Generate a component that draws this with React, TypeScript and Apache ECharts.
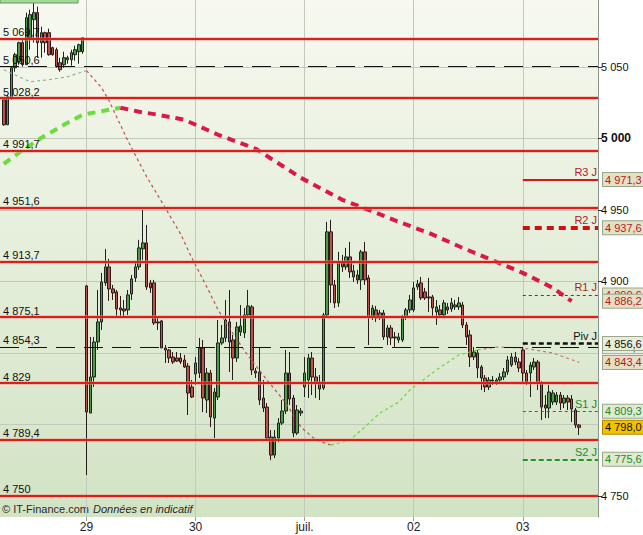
import React, { useEffect, useRef } from 'react';
import * as echarts from 'echarts';

// jours affichés et nombre de bougies par jour
const days = ['28', '29', '30', 'juil.', '02', '03'];
const dayCounts = [22, 29, 29, 29, 29, 16];
const padBefore = 1;
const padAfter = 5;

// bougies [ouverture, clôture, plus bas, plus haut]
const candles = [
  // 28
  [5027.1, 5009.6, 5008.9, 5028.5], [5009.6, 5029.2, 5009.6, 5030.6], [5028.5, 5049.5, 5027.1, 5050.2],
  [5049.5, 5058.6, 5046.7, 5060.0], [5053.7, 5067.0, 5051.6, 5067.7], [5067.0, 5051.6, 5050.2, 5069.1],
  [5051.6, 5084.5, 5051.6, 5088.0], [5070.5, 5086.6, 5062.1, 5090.1], [5083.1, 5088.0, 5067.0, 5095.7],
  [5088.0, 5067.0, 5056.5, 5092.2], [5067.0, 5074.0, 5056.5, 5078.2], [5074.0, 5067.0, 5060.0, 5074.7],
  [5074.0, 5058.6, 5057.9, 5076.8], [5063.5, 5058.6, 5057.9, 5064.2], [5062.1, 5050.2, 5049.5, 5063.5],
  [5053.0, 5048.1, 5046.7, 5056.5], [5051.6, 5056.5, 5049.5, 5060.7], [5055.1, 5056.5, 5052.3, 5057.9],
  [5055.1, 5060.0, 5050.9, 5062.1], [5058.6, 5062.1, 5054.4, 5064.9], [5060.7, 5065.6, 5052.3, 5066.3],
  [5060.7, 5070.5, 5059.3, 5070.5],
  // 29
  [4896.9, 4808.7, 4764.6, 4897.6], [4808.0, 4833.2, 4808.0, 4861.2], [4833.2, 4857.7, 4826.2, 4861.2],
  [4857.7, 4871.7, 4852.1, 4894.1], [4871.7, 4899.7, 4866.1, 4906.0], [4899.0, 4910.2, 4896.9, 4922.8],
  [4910.2, 4894.8, 4886.4, 4915.8], [4894.8, 4892.0, 4887.1, 4897.6], [4892.7, 4880.8, 4875.9, 4894.1],
  [4881.5, 4880.1, 4875.9, 4889.9], [4880.8, 4879.4, 4874.5, 4887.1], [4880.1, 4890.6, 4876.6, 4894.1],
  [4891.3, 4901.8, 4887.1, 4904.6], [4902.5, 4910.2, 4899.7, 4913.7], [4910.2, 4923.5, 4908.1, 4929.1],
  [4922.8, 4927.0, 4915.1, 4950.1], [4927.0, 4896.2, 4894.1, 4939.6], [4899.0, 4895.5, 4892.0, 4901.1],
  [4899.0, 4871.0, 4869.6, 4901.1], [4871.7, 4871.0, 4866.1, 4874.5], [4872.4, 4853.5, 4853.5, 4873.1],
  [4853.5, 4852.1, 4843.0, 4855.6], [4852.1, 4846.5, 4843.0, 4852.8], [4847.2, 4843.7, 4842.3, 4850.7],
  [4846.5, 4844.4, 4843.7, 4850.7], [4846.5, 4843.7, 4842.3, 4850.0], [4845.1, 4840.2, 4839.5, 4848.6],
  [4840.9, 4822.0, 4806.6, 4843.0], [4826.2, 4819.2, 4818.5, 4831.1],
  // 30
  [4835.3, 4843.0, 4827.6, 4847.2], [4836.0, 4853.5, 4832.5, 4860.5], [4853.5, 4818.5, 4808.7, 4859.1],
  [4817.1, 4836.0, 4808.0, 4839.5], [4836.0, 4805.2, 4798.2, 4838.1], [4804.5, 4822.7, 4790.5, 4825.5],
  [4819.2, 4857.0, 4817.1, 4873.1], [4857.0, 4860.5, 4855.6, 4869.6], [4860.5, 4873.1, 4857.7, 4887.1],
  [4871.7, 4857.7, 4836.7, 4894.1], [4859.1, 4846.5, 4831.1, 4862.6], [4846.5, 4868.2, 4843.7, 4871.7],
  [4864.7, 4868.9, 4861.9, 4883.6], [4864.0, 4876.6, 4860.5, 4881.5], [4876.6, 4882.9, 4874.5, 4894.1],
  [4882.2, 4838.1, 4834.6, 4883.6], [4837.4, 4836.0, 4832.5, 4839.5], [4836.7, 4817.1, 4813.6, 4854.2],
  [4818.5, 4811.5, 4808.7, 4831.1], [4812.2, 4790.5, 4789.1, 4815.0], [4791.2, 4778.6, 4775.1, 4796.1],
  [4778.6, 4791.2, 4776.5, 4796.1], [4790.5, 4801.0, 4787.7, 4804.5], [4801.0, 4809.4, 4799.6, 4817.1],
  [4809.4, 4836.0, 4807.3, 4852.1], [4836.0, 4817.8, 4813.6, 4850.7], [4818.5, 4794.0, 4791.2, 4820.6],
  [4794.0, 4810.1, 4792.6, 4813.6], [4808.0, 4809.4, 4805.9, 4811.5],
  // juil.
  [4826.2, 4836.0, 4819.2, 4847.2], [4831.1, 4846.5, 4818.5, 4849.3], [4846.5, 4833.2, 4820.6, 4850.7],
  [4833.2, 4829.0, 4818.5, 4839.5], [4829.7, 4824.8, 4817.1, 4834.6], [4825.5, 4876.6, 4824.1, 4878.0],
  [4876.6, 4934.7, 4874.5, 4941.7], [4934.7, 4897.6, 4885.0, 4943.1], [4897.6, 4885.0, 4881.5, 4901.1],
  [4885.0, 4913.7, 4882.2, 4920.7], [4913.7, 4910.2, 4906.7, 4918.6], [4910.2, 4917.2, 4908.1, 4923.5],
  [4917.2, 4906.7, 4902.5, 4927.7], [4903.2, 4907.4, 4899.7, 4911.6], [4904.6, 4901.1, 4898.3, 4908.1],
  [4901.1, 4920.7, 4894.1, 4922.1], [4920.7, 4901.1, 4897.6, 4927.7], [4902.5, 4875.2, 4855.6, 4904.6],
  [4875.2, 4881.5, 4873.1, 4883.6], [4880.1, 4874.5, 4871.7, 4882.9], [4874.5, 4878.0, 4873.1, 4880.1],
  [4878.0, 4861.2, 4859.1, 4880.1], [4861.2, 4867.5, 4855.6, 4869.6], [4867.5, 4860.5, 4855.6, 4869.6],
  [4861.2, 4860.5, 4854.2, 4864.7], [4859.1, 4861.2, 4857.0, 4864.0], [4859.1, 4875.2, 4857.7, 4876.6],
  [4875.2, 4880.1, 4873.1, 4881.5], [4880.1, 4887.1, 4878.0, 4890.6],
  // 02
  [4880.1, 4895.5, 4878.7, 4899.7], [4896.2, 4898.3, 4894.1, 4901.1], [4899.0, 4888.5, 4887.1, 4903.2],
  [4892.7, 4888.5, 4887.1, 4895.5], [4889.2, 4888.5, 4878.7, 4902.5], [4889.2, 4881.5, 4874.5, 4890.6],
  [4878.7, 4882.2, 4869.6, 4887.1], [4880.1, 4876.6, 4874.5, 4883.6], [4876.6, 4885.0, 4874.5, 4887.1],
  [4882.2, 4880.1, 4877.3, 4885.0], [4880.8, 4885.0, 4878.7, 4888.5], [4882.2, 4883.6, 4880.1, 4887.1],
  [4882.2, 4885.0, 4880.1, 4889.2], [4883.6, 4869.6, 4867.5, 4885.7], [4869.6, 4861.2, 4855.6, 4871.7],
  [4862.6, 4847.2, 4840.2, 4866.1], [4847.2, 4850.7, 4845.1, 4854.2], [4850.0, 4839.5, 4832.5, 4852.1],
  [4840.2, 4832.5, 4824.1, 4841.6], [4832.5, 4826.2, 4822.7, 4834.6], [4826.2, 4831.1, 4824.1, 4833.2],
  [4830.4, 4831.1, 4827.6, 4833.9], [4829.7, 4831.1, 4827.6, 4832.5], [4831.1, 4833.2, 4829.7, 4836.0],
  [4833.2, 4836.7, 4831.1, 4839.5], [4836.7, 4845.1, 4834.6, 4847.9], [4841.6, 4847.2, 4840.2, 4850.0],
  [4847.2, 4843.7, 4841.6, 4850.7], [4843.7, 4839.5, 4836.7, 4846.5],
  // 03
  [4852.1, 4836.0, 4829.0, 4854.2], [4836.0, 4829.7, 4827.6, 4838.1], [4836.0, 4841.6, 4819.2, 4843.7],
  [4840.2, 4843.7, 4838.1, 4846.5], [4843.7, 4829.0, 4824.1, 4845.1], [4829.0, 4812.2, 4803.1, 4830.4],
  [4813.6, 4811.5, 4804.5, 4820.6], [4811.5, 4822.7, 4804.5, 4827.6], [4815.7, 4822.0, 4813.6, 4824.1],
  [4815.7, 4820.6, 4813.6, 4822.7], [4820.6, 4815.0, 4810.1, 4822.7], [4815.0, 4818.5, 4811.5, 4820.6],
  [4818.5, 4815.7, 4810.1, 4820.6], [4817.8, 4810.8, 4801.7, 4820.6], [4810.1, 4799.6, 4797.5, 4811.5],
  [4799.6, 4798.0, 4792.6, 4800.3],
];

// moyenne courte (pointillés fins) : [indice de bougie, valeur]
const fastMaFlat = [[0, 5048.1], [7, 5039.7], [12, 5041.1], [17, 5043.2], [21, 5046.7], [22, 5047.4]];
const fastMaDown = [
  [22, 5047.4], [26, 5035.5], [28, 5026.4], [33, 4998.4], [38, 4973.2], [42, 4955.7], [47, 4933.3],
  [50, 4916.5], [54, 4896.2], [57, 4880.1], [61, 4863.3], [65, 4847.9], [70, 4831.1], [75, 4815.0],
  [79, 4798.2], [83, 4789.1], [87, 4785.6],
];
const fastMaUp = [
  [87, 4785.6], [92, 4789.1], [96, 4798.2], [100, 4808.0], [105, 4815.7], [108, 4824.1],
  [115, 4838.1], [121, 4848.6], [126, 4852.1],
];
const fastMaEnd = [[126, 4852.1], [131, 4854.2], [138, 4853.5], [146, 4850.0], [153, 4843.4]];

// moyenne longue (gros pointillés)
const slowMaUp = [[0, 4982.3], [4, 4990.0], [10, 5000.5], [16, 5009.6], [21, 5016.6], [28, 5020.1], [31, 5021.5]];
const slowMaDown = [
  [31, 5021.5], [36, 5018.7], [41, 5016.6], [48, 5013.1], [54, 5006.1], [57, 5002.6], [67, 4992.8],
  [79, 4972.5], [90, 4957.1], [97, 4950.1], [105, 4941.7], [113, 4934.0], [122, 4923.5], [131, 4913.7],
  [138, 4906.0], [146, 4895.5], [151, 4886.2],
];

// niveaux horizontaux
const redLevels = [5069.7, 5028.2, 4991.7, 4951.6, 4913.7, 4875.1, 4829, 4789.4, 4750];
const dashedLevels = [5050.6, 4854.3];
const gridValues = [5050, 5000, 4950, 4900, 4850, 4800, 4750];
const axisValues = [5050, 5000, 4950, 4900, 4750];

// points pivots du jour
const pivotNames = ['R3 J', 'R2 J', 'R1 J', 'Piv J', 'S1 J', 'S2 J'];
const pivotValues = [4971.3, 4937.6, 4890.6, 4856.6, 4809.3, 4775.6];

const FONT = '"Liberation Sans", Arial, sans-serif';

const fr = (v: number, dec: number) => {
  const [i, d] = v.toFixed(dec).split('.');
  const ii = i.replace(/\B(?=(\d{3})+(?!\d))/g, ' ');
  return d ? `${ii},${d}` : ii;
};

// catégories : une case vide, les bougies de chaque jour, puis quelques cases vides
const categories: string[] = [];
const dayStartAt: Record<number, string> = {};
for (let k = 0; k < padBefore; k++) categories.push(`pre${k}`);
days.forEach((d, di) => {
  if (di > 0) dayStartAt[categories.length] = d;
  for (let k = 0; k < dayCounts[di]; k++) categories.push(`${d} ${k}`);
});
for (let k = 0; k < padAfter; k++) categories.push(`post${k}`);

const toCat = (pts: number[][]) => pts.map(([i, v]) => [i + padBefore, v]);

const App = () => {
  const chartRef = useRef<HTMLDivElement>(null);

  useEffect(() => {
    if (!chartRef.current) return;
    const chart = echarts.init(chartRef.current, null, { renderer: 'svg' });

    const lastClose = candles[candles.length - 1][1];
    const fastEnd = fastMaEnd[fastMaEnd.length - 1][1];
    const slowEnd = slowMaDown[slowMaDown.length - 1][1];
    const pivotStart = categories[padBefore + dayCounts.slice(0, 5).reduce((a, b) => a + b, 0)];
    const pivotEnd = categories[categories.length - 1];

    const pivotLineStyles = [
      { color: '#d81414', width: 2, type: 'solid' },
      { color: '#cc1111', width: 4, type: [7, 5] },
      { color: '#5a3a3a', width: 1, type: [3, 3] },
      { color: '#111111', width: 2.5, type: [5, 3] },
      { color: '#3c6e3c', width: 1, type: [3, 3] },
      { color: '#1f9a1f', width: 2, type: [5, 3] },
    ];
    const pivotTextColors = ['#b01c1c', '#b01c1c', '#b01c1c', '#111111', '#1f8a1f', '#1f8a1f'];

    const boxStyle = (text: string, bg: string, border: string) => ({
      show: true,
      position: 'end',
      distance: 5,
      color: text,
      backgroundColor: bg,
      borderColor: border,
      borderWidth: 1,
      padding: [1, 2, 0, 2],
      fontSize: 11,
      lineHeight: 12,
    });
    const redBox = ['#b01c1c', '#e6dfc6', '#98a888'];
    const blackBox = ['#111111', '#e9ecdc', '#98a888'];
    const greenBox = ['#1f8a1f', '#dfe9d4', '#98a888'];
    const hidden = { color: 'rgba(0,0,0,0)', width: 1 };
    const box = (v: number, c: string[]) => ({
      yAxis: v,
      lineStyle: hidden,
      label: { ...boxStyle(c[0], c[1], c[2]), formatter: fr(v, 1) },
    });

    const levelLabel = (v: number) => ({
      show: true,
      position: 'insideStartTop',
      distance: [3, 1],
      color: '#111',
      fontSize: 11,
      formatter: fr(v, Number.isInteger(v) ? 0 : 1),
    });

    const levelLines = [
      ...redLevels.map(v => ({
        yAxis: v,
        lineStyle: { color: 'rgba(240,150,130,0.45)', width: 4, type: 'solid' },
        label: { show: false },
      })),
      ...redLevels.map(v => ({
        yAxis: v,
        lineStyle: { color: '#e01b1b', width: 2, type: 'solid' },
        label: levelLabel(v),
      })),
      ...dashedLevels.map(v => ({
        yAxis: v,
        lineStyle: { color: '#111', width: 1, type: [19, 9] },
        label: levelLabel(v),
      })),
    ];

    const pivotLines = pivotValues.map((v, i) => [
      { coord: [pivotStart, v], lineStyle: pivotLineStyles[i] },
      {
        coord: [pivotEnd, v],
        label: {
          show: true,
          position: 'insideEndTop',
          distance: [1, 2],
          color: pivotTextColors[i],
          fontSize: 11,
          formatter: pivotNames[i],
        },
      },
    ]);

    // les étiquettes se recouvrent comme sur l'original (R1 sous 4 886,2 ; 4 854,3 sous Piv)
    const boxes = [
      box(pivotValues[0], redBox),
      box(pivotValues[1], redBox),
      box(pivotValues[2], redBox),
      box(slowEnd, redBox),
      box(dashedLevels[1], blackBox),
      box(pivotValues[3], blackBox),
      box(fastEnd, redBox),
      box(pivotValues[4], greenBox),
      box(lastClose, ['#111111', '#f2c200', '#b08800']),
      box(pivotValues[5], greenBox),
    ];

    const maLine = (name: string, pts: number[][], color: string, width: number, dash: number[]) => ({
      name,
      type: 'line',
      data: toCat(pts),
      showSymbol: false,
      symbol: 'none',
      silent: true,
      z: 3,
      lineStyle: { color, width, type: dash },
    });

    const options = {
      animation: false,
      textStyle: { fontFamily: FONT },
      grid: {
        left: 0,
        right: 45,
        top: 0,
        bottom: 18,
        show: true,
        borderWidth: 0,
        backgroundColor: {
          type: 'linear',
          x: 0,
          y: 0,
          x2: 0,
          y2: 1,
          colorStops: [
            { offset: 0, color: '#f7f9f0' },
            { offset: 1, color: '#d2e3c4' },
          ],
        },
      },
      xAxis: {
        type: 'category',
        data: categories,
        boundaryGap: false,
        axisLine: { show: false },
        axisTick: {
          show: true,
          length: 4,
          interval: (idx: number) => dayStartAt[idx] !== undefined,
          lineStyle: { color: '#9aa294' },
        },
        axisLabel: {
          interval: (idx: number) => dayStartAt[idx] !== undefined,
          formatter: (_v: string, idx: number) => dayStartAt[idx] || '',
          fontSize: 12,
          color: '#222',
          margin: 4,
        },
        splitLine: {
          show: true,
          interval: (idx: number) => dayStartAt[idx] !== undefined,
          lineStyle: { color: '#c2c9ba', width: 1 },
        },
      },
      yAxis: {
        type: 'value',
        position: 'right',
        min: 4735.3,
        max: 5096.85,
        axisLine: { show: true, lineStyle: { color: '#8a9488' } },
        axisTick: { show: true, length: 4, customValues: axisValues, lineStyle: { color: '#333' } },
        axisLabel: {
          customValues: axisValues,
          margin: 3,
          fontSize: 11,
          color: '#111',
          formatter: (v: number) => {
            if (!axisValues.includes(v)) return '';
            return v % 1000 === 0 ? `{b|${fr(v, 0)}}` : fr(v, 0);
          },
          rich: { b: { fontWeight: 'bold', fontSize: 12, color: '#111' } },
        },
        splitLine: { show: false },
      },
      graphic: [
        {
          type: 'rect',
          shape: { x: 0, y: -8, width: 78, height: 11 },
          style: { fill: '#a6d69a', stroke: '#5f9a58', lineWidth: 1 },
          silent: true,
          z: 10,
        },
        {
          type: 'text',
          left: 2,
          top: 503,
          silent: true,
          style: { text: '© IT-Finance.com', fontSize: 11, fill: '#2a2a2a', fontFamily: FONT },
        },
        {
          type: 'text',
          left: 93,
          top: 503,
          silent: true,
          style: {
            text: 'Données en indicatif',
            fontSize: 11,
            fontStyle: 'italic',
            fill: '#2a2a2a',
            fontFamily: FONT,
          },
        },
      ],
      series: [
        {
          name: 'grille',
          type: 'line',
          data: [],
          silent: true,
          markLine: {
            silent: true,
            z: 1,
            symbol: ['none', 'none'],
            label: { show: false },
            data: gridValues.map(v => ({
              yAxis: v,
              lineStyle: { color: '#c2c9ba', width: 1, type: 'solid' },
            })),
          },
        },
        {
          name: 'CAC',
          type: 'candlestick',
          data: [...Array(padBefore).fill('-'), ...candles],
          barWidth: 3,
          clip: false,
          silent: true,
          itemStyle: {
            color: '#4f9a4a',
            color0: '#b8524c',
            borderColor: '#1c241c',
            borderColor0: '#2a1a1a',
            borderWidth: 1,
          },
          markLine: {
            silent: true,
            symbol: ['none', 'none'],
            data: levelLines,
          },
        },
        maLine('mm courte', fastMaFlat, '#8fb08f', 1.2, [3, 3]),
        maLine('mm courte baisse', fastMaDown, '#c0504c', 1.2, [3, 3]),
        maLine('mm courte hausse', fastMaUp, '#66d83a', 1.2, [3, 3]),
        maLine('mm courte fin', fastMaEnd, '#c07a76', 1.2, [3, 3]),
        maLine('mm longue hausse', slowMaUp, '#6cdc3c', 4, [8, 6]),
        maLine('mm longue baisse', slowMaDown, '#dc1848', 4, [8, 6]),
        {
          name: 'pivots',
          type: 'line',
          data: [],
          silent: true,
          markLine: {
            silent: true,
            symbol: ['none', 'none'],
            data: [...pivotLines, ...boxes],
          },
        },
      ],
    };

    chart.setOption(options as any);

    return () => {
      chart.dispose();
    };
  }, []);

  return (
    <div
      ref={chartRef}
      style={{ position: 'fixed', left: 0, top: 0, width: '643px', height: '535px', background: '#fff' }}
    />
  );
};

export default App;
